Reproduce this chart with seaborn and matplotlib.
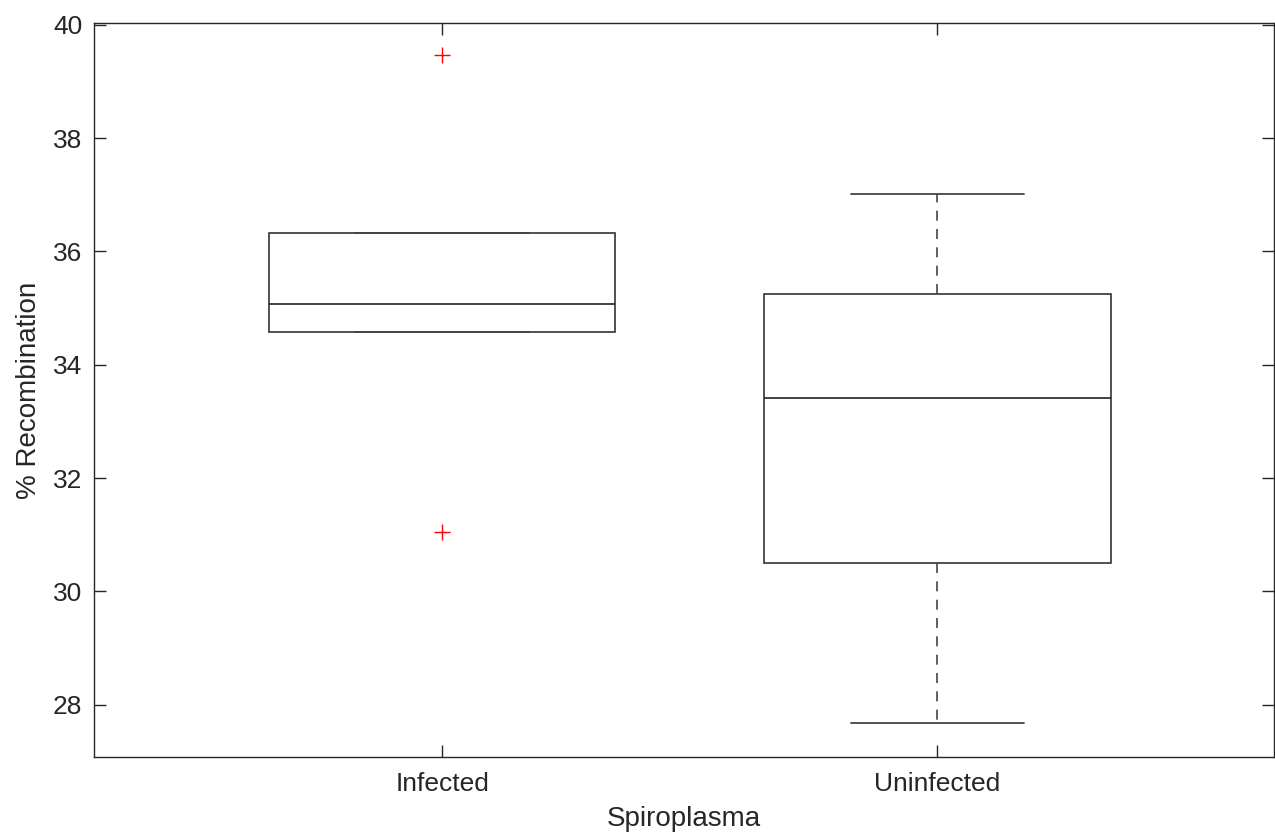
import numpy as np
import pandas as pd
import matplotlib
matplotlib.use("Agg")
import matplotlib.pyplot as plt
import seaborn as sns

# Data (5 summary points per group)
infected = [31.05, 34.58, 35.07, 36.32, 39.46]
uninfected = [27.68, 30.50, 33.41, 35.25, 37.01]
categories = ["Infected", "Uninfected"]
yticks = [28, 30, 32, 34, 36, 38, 40]

sns.set_style("white")
plt.rcParams["font.family"] = ["Liberation Sans", "DejaVu Sans"]

df = pd.DataFrame({
    "Spiroplasma": [categories[0]] * len(infected) + [categories[1]] * len(uninfected),
    "Recombination": infected + uninfected,
})

fig = plt.figure(figsize=(12.75, 8.4), dpi=100)
ax = fig.add_axes([94 / 1275, 1 - 757 / 840, (1274 - 94) / 1275, (757 - 23) / 840])

sns.boxplot(
    data=df, x="Spiroplasma", y="Recombination", order=categories,
    color="white", linecolor="black", linewidth=1.0, width=0.7, whis=1.5,
    flierprops=dict(marker="+", markeredgecolor="red", markerfacecolor="red",
                    markersize=11, markeredgewidth=1.0),
    whiskerprops=dict(linestyle=(0, (6, 5)), color="#444444", linewidth=1.2),
    capprops=dict(color="#444444", linewidth=1.3),
    medianprops=dict(color="#222222", linewidth=1.2),
    boxprops=dict(edgecolor="#333333", linewidth=1.2),
    ax=ax,
)

ax.set_xlim(-0.703, 1.68)
ax.set_ylim(27.08, 40.03)
ax.set_yticks(yticks)
ax.set_yticklabels([str(t) for t in yticks])
ax.set_xticks([0, 1])
ax.set_xticklabels(categories)

for s in ax.spines.values():
    s.set_visible(True)
    s.set_color("#262626")
    s.set_linewidth(1.0)

ax.tick_params(axis="both", direction="in", length=8.5, width=1, color="#262626",
               labelcolor="#262626", labelsize=19, top=True, right=True,
               left=True, bottom=True)
ax.tick_params(axis="y", pad=8.5)
ax.tick_params(axis="x", pad=11)
ax.set_xlabel("Spiroplasma", fontsize=20, color="#262626", labelpad=7)
ax.set_ylabel("% Recombination", fontsize=20, color="#262626", labelpad=8)

fig.savefig("out.png", dpi=100)
